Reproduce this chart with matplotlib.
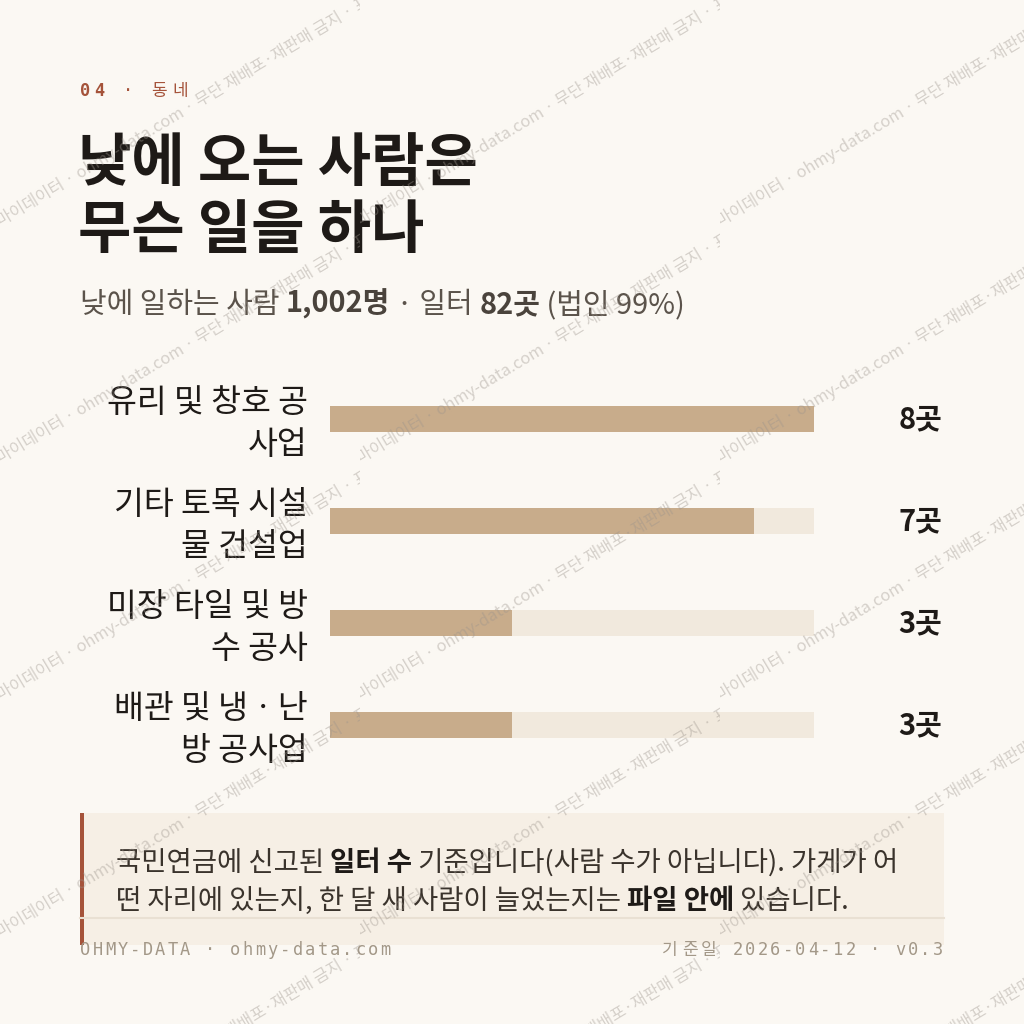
"""Card: 낮에 오는 사람은 무슨 일을 하나 (industries of daytime workplaces)."""
import matplotlib

matplotlib.use("Agg")
import matplotlib.pyplot as plt
from matplotlib.patches import Rectangle
from matplotlib.transforms import Bbox, TransformedBbox

# ---- data ----
categories = [
    "유리 및 창호 공\n사업",
    "기타 토목 시설\n물 건설업",
    "미장 타일 및 방\n수 공사",
    "배관 및 냉ㆍ난\n방 공사업",
]
counts = [8, 7, 3, 3]
unit = "곳"

kicker = "04 · 동네"
title_lines = ["낮에 오는 사람은", "무슨 일을 하나"]
subtitle_runs = [
    ("낮에 일하는 사람 ", "normal"),
    ("1,002명", "bold"),
    (" · 일터 ", "normal"),
    ("82곳", "bold"),
    (" (법인 99%)", "normal"),
]
note_lines = [
    [("국민연금에 신고된 ", "normal"), ("일터 수", "bold"),
     (" 기준입니다(사람 수가 아닙니다). 가게가 어", "normal")],
    [("떤 자리에 있는지, 한 달 새 사람이 늘었는지는 ", "normal"), ("파일 안에", "bold"),
     (" 있습니다.", "normal")],
]
footer_left = "OHMY-DATA · ohmy-data.com"
footer_right = "기준일 2026-04-12 · v0.3"
watermark = "마이데이터 · ohmy-data.com · 무단 재배포·재판매 금지 · 표본 자료"

# ---- style ----
BG = "#FBF8F3"
INK = "#1E1A17"
SUB = "#5B534B"
RUST = "#A5533A"
FILL = "#C8AC8B"
TRACK = "#F1E9DD"
BOX = "#F6EFE5"
MUTED = "#A39888"
KR = ["Noto Sans CJK KR", "DejaVu Sans"]
MONO = ["DejaVu Sans Mono", "Noto Sans CJK KR"]
W = H = 1024


def pt(px):
    return px * 72 / 100


fig = plt.figure(figsize=(10.24, 10.24), dpi=100, facecolor=BG)
renderer = fig.canvas.get_renderer()

ax = fig.add_axes([0, 0, 1, 1], zorder=0)
ax.set_xlim(0, W)
ax.set_ylim(H, 0)
ax.axis("off")


def advance(s, size, weight, family):
    a = ax.text(0, 0, s + "|", fontsize=size, fontweight=weight, family=family)
    b = ax.text(0, 0, "|", fontsize=size, fontweight=weight, family=family)
    w = a.get_window_extent(renderer).width - b.get_window_extent(renderer).width
    a.remove()
    b.remove()
    return w


def draw_runs(x, y, runs, size, colors):
    for text, weight in runs:
        ax.text(x, y, text, fontsize=size, fontweight=weight, family=KR,
                color=colors[weight], va="baseline", ha="left")
        x += advance(text, size, weight, KR)


def char_adv(ch, size_px, spacing):
    return (size_px if ord(ch) > 0x2000 else 0.6 * size_px) + spacing


def spaced_width(s, size_px, spacing):
    return sum(char_adv(ch, size_px, spacing) for ch in s) - spacing


def draw_spaced(x, y, s, size_px, spacing, color, bold_digits=False):
    for ch in s:
        weight = "bold" if (bold_digits and ch.isdigit()) else "normal"
        ax.text(x, y, ch, fontsize=pt(size_px), family=MONO, fontweight=weight,
                color=color, va="baseline", ha="left")
        x += char_adv(ch, size_px, spacing)


# header
draw_spaced(80, 96, kicker, 17, 4, RUST, bold_digits=True)
for i, line in enumerate(title_lines):
    ax.text(78, 181 + 67 * i, line, fontsize=pt(58), fontweight="bold", family=KR,
            color=INK, va="baseline", ha="left")
draw_runs(80, 313, subtitle_runs, pt(29), {"normal": SUB, "bold": "#4A433C"})

# note box + footer
ax.add_patch(Rectangle((80, 813), 864, 132, color=BOX, lw=0))
ax.add_patch(Rectangle((80, 813), 4, 132, color=RUST, lw=0))
for i, line in enumerate(note_lines):
    draw_runs(116, 871 + 38 * i, line, pt(27.5), {"normal": "#3A332C", "bold": INK})
ax.plot([80, 944], [918, 918], color="#E9E0D3", lw=1.5)
draw_spaced(80, 955, footer_left, 17, 2.3, MUTED)
draw_spaced(943 - spaced_width(footer_right, 17, 2.3), 955, footer_right, 17, 2.3, MUTED)

# bars
n = len(categories)
bax = fig.add_axes([330 / W, 1 - 776 / H, 484 / W, 408 / H], zorder=1)
bax.patch.set_visible(False)
ypos = list(range(n))
bax.barh(ypos, [max(counts)] * n, height=0.255, color=TRACK, lw=0)
bax.barh(ypos, counts, height=0.255, color=FILL, lw=0)
bax.set_xlim(0, max(counts))
bax.set_ylim(n - 0.5, -0.5)
bax.axis("off")
for i, (label, v) in enumerate(zip(categories, counts)):
    bax.annotate(label, xy=(0, i), xycoords=("axes fraction", "data"), xytext=(-22, -5),
                 textcoords="offset pixels", ha="right", va="center", multialignment="right",
                 fontsize=pt(32.5), family=KR, color=INK, linespacing=1.4)
    bax.annotate(f"{v}{unit}", xy=(1, i), xycoords=("axes fraction", "data"), xytext=(128, 0),
                 textcoords="offset pixels", ha="right", va="center",
                 fontsize=pt(29), fontweight="bold", family=KR, color=INK)

# watermark tiles on top, each clipped to its own tile
wax = fig.add_axes([0, 0, 1, 1], zorder=5)
wax.set_xlim(0, W)
wax.set_ylim(H, 0)
wax.patch.set_visible(False)
wax.axis("off")
for col in range(3):
    x0 = col * 360
    for row in range(5):
        y0 = 227 + 237 * row
        t = wax.text(x0 + 1, y0, watermark, fontsize=pt(16.5), family=KR, color="#9C948C",
                     alpha=0.4, rotation=31, rotation_mode="anchor", ha="left", va="baseline",
                     clip_on=True)
        t.set_clip_path(None)
        t.set_clip_box(TransformedBbox(Bbox([[x0, y0 - 260], [x0 + 360, y0 + 20]]), wax.transData))

fig.savefig("out.png", dpi=100, facecolor=BG)
